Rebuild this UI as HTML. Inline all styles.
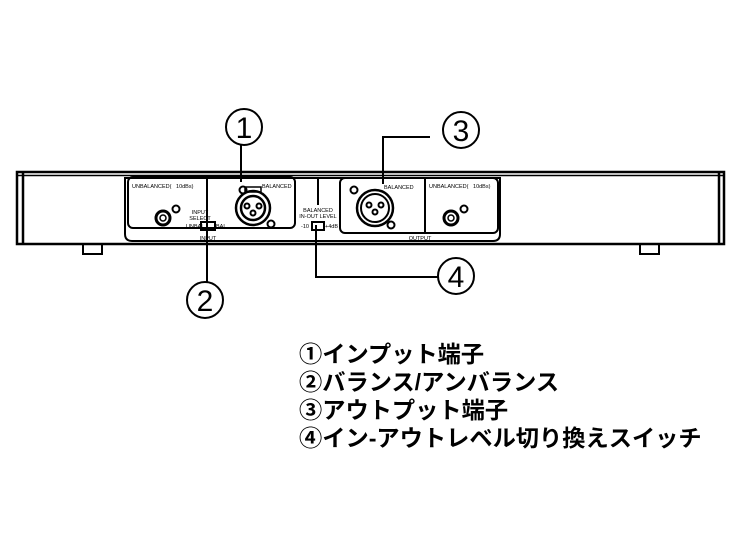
<!DOCTYPE html>
<html><head><meta charset="utf-8"><style>
html,body{margin:0;padding:0;background:#fff;width:740px;height:555px;overflow:hidden}
.t{position:absolute;left:299px;font-family:"Liberation Sans","Noto Sans CJK JP",sans-serif;font-size:23px;font-weight:bold;line-height:28px;color:#000;white-space:nowrap;transform:scaleX(1.01);transform-origin:left}
</style></head><body>
<svg width="740" height="555" style="position:absolute;left:0;top:0" xmlns="http://www.w3.org/2000/svg" font-family="Liberation Sans, sans-serif">
<g fill="none" stroke="#000">
<!-- chassis -->
<rect x="17" y="172" width="707" height="72" stroke-width="2.5"/>
<line x1="17" y1="175.5" x2="724" y2="175.5" stroke-width="1.5"/>
<line x1="23" y1="172" x2="23" y2="244" stroke-width="2.5"/>
<line x1="719" y1="172" x2="719" y2="244" stroke-width="2.5"/>
<rect x="83" y="244" width="19" height="10" stroke-width="2"/>
<rect x="640" y="244" width="19" height="10" stroke-width="2"/>
<!-- big panel -->
<path d="M125 178 H500 V234 Q500 241 493 241 H132 Q125 241 125 234 Z" stroke-width="2"/>
<rect x="128" y="177" width="167" height="51" rx="5" stroke-width="2"/>
<rect x="340" y="178" width="158" height="55" rx="5" stroke-width="2"/>
<line x1="425" y1="178" x2="425" y2="233" stroke-width="2"/>
<!-- input XLR -->
<circle cx="253" cy="208" r="17" stroke-width="2.5"/>
<circle cx="253" cy="208" r="12" stroke-width="2.5"/>
<rect x="245" y="187" width="16" height="5" stroke-width="1.5"/>
<circle cx="243" cy="190" r="3.5" stroke-width="2"/>
<circle cx="271" cy="224" r="3.5" stroke-width="2"/>
<circle cx="247" cy="206" r="2.5" stroke-width="2"/>
<circle cx="259" cy="206" r="2.5" stroke-width="2"/>
<circle cx="253" cy="213" r="2.5" stroke-width="2"/>
<!-- input RCA -->
<circle cx="163" cy="218" r="7" stroke-width="3"/>
<circle cx="163" cy="218" r="3" stroke-width="1.5"/>
<circle cx="176" cy="209" r="3.5" stroke-width="2"/>
<!-- output XLR -->
<circle cx="375" cy="208" r="18" stroke-width="2.5"/>
<circle cx="375" cy="208" r="14" stroke-width="2"/>
<circle cx="369" cy="205" r="2.5" stroke-width="2"/>
<circle cx="381" cy="205" r="2.5" stroke-width="2"/>
<circle cx="375" cy="212" r="2.5" stroke-width="2"/>
<circle cx="354" cy="190" r="3.5" stroke-width="2"/>
<circle cx="391" cy="225" r="3.5" stroke-width="2"/>
<!-- output RCA -->
<circle cx="451" cy="218" r="7" stroke-width="3"/>
<circle cx="451" cy="218" r="3" stroke-width="1.5"/>
<circle cx="464" cy="209" r="3.5" stroke-width="2"/>
<!-- switches -->
<rect x="201" y="222" width="14" height="8" stroke-width="2"/>
<rect x="312" y="222" width="12" height="8" stroke-width="2"/>
<!-- callouts -->
<circle cx="244" cy="127" r="18" stroke-width="2"/>
<line x1="241" y1="145" x2="241" y2="182" stroke-width="2"/>
<circle cx="205" cy="300" r="18" stroke-width="2"/>
<line x1="207" y1="178" x2="207" y2="282" stroke-width="2"/>
<circle cx="461" cy="130" r="18" stroke-width="2"/>
<polyline points="383,184 383,137 430,137" stroke-width="2"/>
<line x1="318" y1="178" x2="318" y2="205" stroke-width="2"/>
<circle cx="456" cy="276" r="18" stroke-width="2"/>
<polyline points="316,225 316,277 438,277" stroke-width="2"/>
</g>
<g font-size="30" text-anchor="middle" fill="#000">
<text x="244" y="138">1</text><text x="205" y="311">2</text>
<text x="461" y="141">3</text><text x="456" y="287">4</text>
</g>
<g font-size="5.5" fill="#000">
<text x="132" y="188">UNBALANCED(&#160;&#160;&#160;10dBs)</text>
<text x="262" y="188">BALANCED</text>
<text x="200" y="214" text-anchor="middle">INPUT</text>
<text x="200" y="220" text-anchor="middle">SELECT</text>
<text x="186" y="228">UNBAL</text><text x="216" y="228">BAL</text>
<text x="208" y="240" text-anchor="middle">INPUT</text>
<text x="318" y="212" text-anchor="middle">BALANCED</text>
<text x="318" y="218" text-anchor="middle">IN-OUT LEVEL</text>
<text x="301" y="228">-10</text><text x="325" y="228">+4dB</text>
<text x="384" y="189">BALANCED</text>
<text x="429" y="188">UNBALANCED(&#160;&#160;&#160;10dBs)</text>
<text x="420" y="240" text-anchor="middle">OUTPUT</text>
</g>
</svg>
<div class="t" style="top:340px">①インプット端子</div>
<div class="t" style="top:368px">②バランス/アンバランス</div>
<div class="t" style="top:396px">③アウトプット端子</div>
<div class="t" style="top:424px">④イン-アウトレベル切り換えスイッチ</div>
</body></html>
